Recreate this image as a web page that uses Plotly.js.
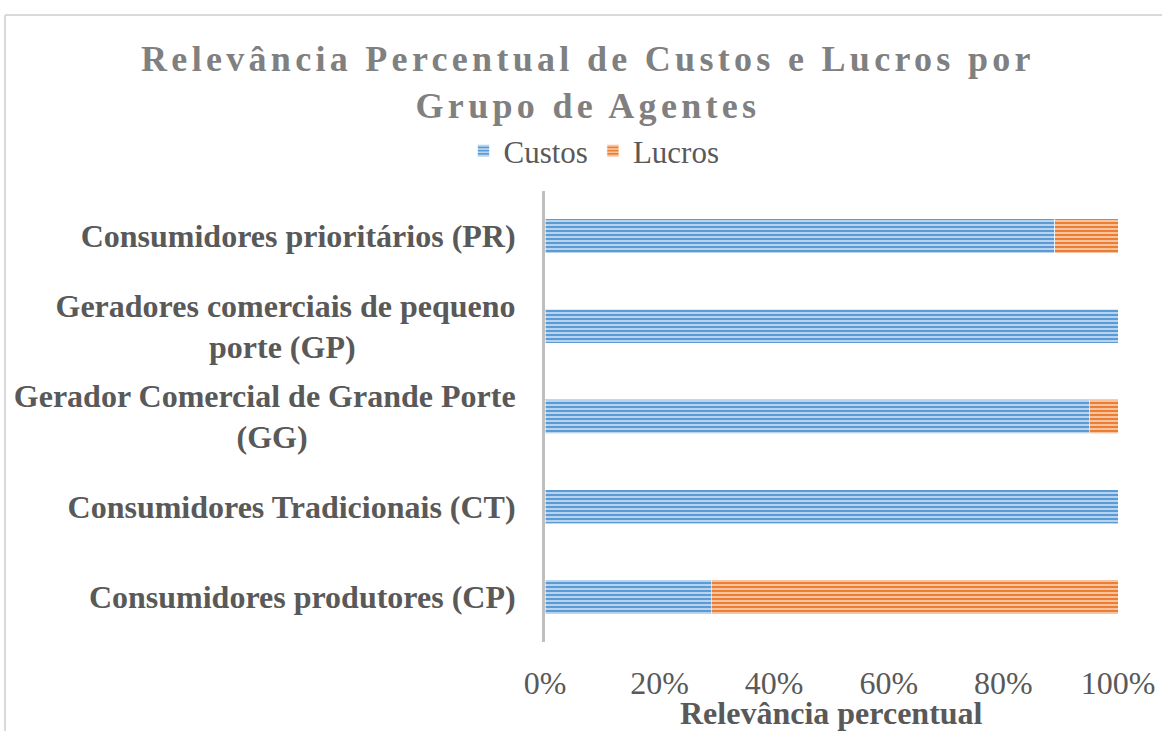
<!DOCTYPE html>
<html>
<head>
<meta charset="utf-8">
<script src="https://cdn.plot.ly/plotly-3.0.1.min.js"></script>
<style>
  html, body { margin: 0; padding: 0; background: #fff; }
  #chart { width: 1162px; height: 731px; }
  .gtitle { letter-spacing: 4.3px; }
</style>
</head>
<body>
<div id="chart"></div>
<script>
// Data (top to bottom)
const categories = [
  "Consumidores prioritários (PR)",
  "Geradores comerciais de pequeno porte (GP)",
  "Gerador Comercial de Grande Porte (GG)",
  "Consumidores Tradicionais (CT)",
  "Consumidores produtores (CP)"
];
const tickLabels = [
  "Consumidores prioritários (PR)",
  "Geradores comerciais de pequeno<br>porte (GP)",
  "Gerador Comercial de Grande Porte<br>(GG)",
  "Consumidores Tradicionais (CT)",
  "Consumidores produtores (CP)"
];
const custos = [89, 100, 95, 100, 29];
const lucros = [11, 0, 5, 0, 71];
const seriesNames = ["Custos", "Lucros"];
const xTickValues = [0, 20, 40, 60, 80, 100];
const xTickLabels = ["0%", "20%", "40%", "60%", "80%", "100%"];
const xAxisTitle = "Relevância percentual";

// pad second lines so they appear centred under the first line
const pad = [0, 20, 26, 0, 0];
const ticktext = tickLabels.map((t, i) => pad[i] ? t + "&nbsp;".repeat(pad[i]) : t);

const W = 1162, H = 731;
const L = 545, R = 44, T = 191, B = 89;
const pw = W - L - R, ph = H - T - B;
const px = v => (v - L) / pw;
const py = v => (H - B - v) / ph;

const serif = "Liberation Serif";

const traces = [
  {
    type: "bar", orientation: "h", name: seriesNames[0],
    y: categories, x: custos,
    marker: {
      color: "#5b9bd5",
      line: { color: "rgba(255,255,255,0.6)", width: 1 },
      pattern: { shape: "-", fillmode: "replace", bgcolor: "#5b9bd5", fgcolor: "#c2daf0", size: 4, solidity: 0.45 }
    },
    hoverinfo: "x+y"
  },
  {
    type: "bar", orientation: "h", name: seriesNames[1],
    y: categories, x: lucros,
    marker: {
      color: "#ed7d31",
      line: { color: "rgba(255,255,255,0.6)", width: 1 },
      pattern: { shape: "-", fillmode: "replace", bgcolor: "#ed7d31", fgcolor: "#f8cbad", size: 4, solidity: 0.45 }
    },
    hoverinfo: "x+y"
  }
];

const layout = {
  width: W, height: H,
  margin: { l: L, r: R, t: T, b: B, pad: 0 },
  paper_bgcolor: "#ffffff", plot_bgcolor: "#ffffff",
  barmode: "stack",
  bargap: 0.62,
  font: { family: serif, color: "#595959", size: 32 },
  title: {
    text: "<b>Relevância Percentual de Custos e Lucros por<br>Grupo de Agentes</b>",
    font: { family: serif, size: 36, color: "#808080" },
    x: 0.506, xanchor: "center", xref: "container",
    y: 0.903, yanchor: "top", yref: "container"
  },
  showlegend: true,
  legend: {
    orientation: "h",
    x: px(594), xanchor: "center",
    y: 1 + (T - 151) / ph, yanchor: "middle",
    font: { family: serif, size: 31, color: "#595959" },
    traceorder: "normal",
    bgcolor: "rgba(0,0,0,0)"
  },
  xaxis: {
    range: [0, 100],
    tickmode: "array",
    tickvals: xTickValues, ticktext: xTickLabels,
    showgrid: false, zeroline: false, showline: false,
    ticks: "",
    ticklabelstandoff: 19,
    tickfont: { family: serif, size: 32, color: "#595959" },
    fixedrange: true
  },
  yaxis: {
    type: "category",
    categoryorder: "array", categoryarray: categories,
    autorange: "reversed",
    tickmode: "array",
    tickvals: categories, ticktext: ticktext,
    showgrid: false, zeroline: false,
    showline: true, linecolor: "#bfbfbf", linewidth: 3,
    ticks: "",
    ticklabelstandoff: 20,
    tickfont: { family: serif, size: 32, color: "#595959", weight: "bold" },
    fixedrange: true
  },
  annotations: [
    {
      text: "<b>" + xAxisTitle + "</b>",
      xref: "paper", yref: "paper",
      x: 0.5, y: py(713), xanchor: "center", yanchor: "middle",
      showarrow: false,
      font: { family: serif, size: 32, color: "#595959" }
    }
  ],
  shapes: [
    { type: "line", xref: "paper", yref: "paper", x0: px(5), x1: px(1162), y0: py(15), y1: py(15), line: { color: "#d9d9d9", width: 2 } },
    { type: "line", xref: "paper", yref: "paper", x0: px(5), x1: px(5), y0: py(15), y1: py(731), line: { color: "#d9d9d9", width: 2 } }
  ]
};

Plotly.newPlot("chart", traces, layout, { displayModeBar: false, responsive: false });
</script>
</body>
</html>
